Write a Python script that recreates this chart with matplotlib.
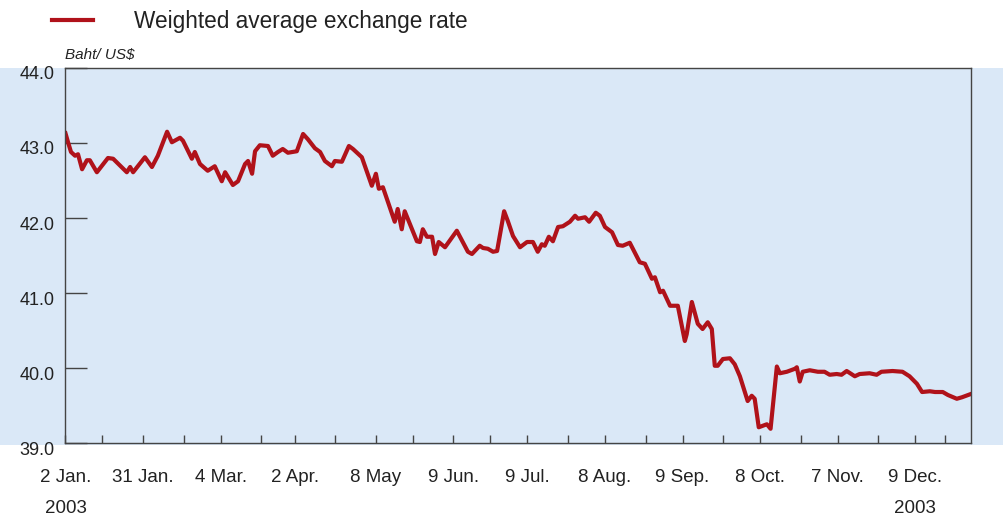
import matplotlib
matplotlib.use("Agg")
import matplotlib.pyplot as plt
import matplotlib.transforms as mtransforms
from matplotlib.patches import Rectangle

# Datos (eje x = dia habil desde el 2 Ene. 2003)
dias = [0, 0.7, 1.5, 2.6, 3.4, 4.5, 5.8, 6.6, 8.5, 11.5,
        12.9, 16.6, 17.5, 18.3, 21.5, 23.4, 25.0, 27.5, 28.8, 31.0,
        31.8, 34.2, 35.0, 36.4, 38.5, 40.4, 42.3, 43.2, 45.3, 46.7,
        48.6, 49.4, 50.5, 51.3, 52.6, 54.8, 56.1, 57.5, 58.8, 60.2,
        62.6, 64.3, 65.6, 67.5, 68.9, 70.2, 72.1, 72.9, 74.8, 76.7,
        77.8, 80.2, 82.9, 84.0, 84.8, 85.9, 89.1, 89.9, 91.0, 91.8,
        95.1, 95.9, 96.7, 97.8, 99.2, 100.0, 101.0, 102.7, 105.9, 108.9,
        110.0, 112.1, 113.0, 114.3, 115.7, 116.8, 118.7, 119.7, 121.1, 123.0,
        124.9, 126.5, 127.8, 128.9, 129.7, 130.8, 131.9, 133.3, 134.6, 136.5,
        137.9, 138.7, 140.6, 141.7, 143.5, 144.6, 146.0, 147.9, 149.5, 150.8,
        152.7, 155.4, 156.8, 158.7, 159.5, 160.9, 161.7, 163.6, 165.7, 167.6,
        168.1, 169.5, 171.1, 172.4, 173.8, 174.9, 175.7, 176.5, 177.9, 179.8,
        181.1, 182.5, 184.6, 185.7, 186.5, 187.6, 189.8, 190.8, 192.5, 193.3,
        195.2, 197.4, 197.9, 198.7, 199.5, 201.4, 203.6, 205.4, 206.8, 208.7,
        210.0, 211.4, 213.6, 214.9, 217.6, 219.5, 220.8, 223.8, 226.5, 228.4,
        230.4, 231.8, 233.9, 235.3, 237.4, 238.8, 241.2, 242.6, 244.8]

tasa = [43.13, 43.01, 42.88, 42.83, 42.85, 42.65, 42.77, 42.77, 42.61, 42.80,
        42.79, 42.61, 42.68, 42.61, 42.81, 42.68, 42.83, 43.15, 43.01, 43.07,
        43.03, 42.79, 42.88, 42.72, 42.63, 42.69, 42.49, 42.61, 42.44, 42.49,
        42.72, 42.76, 42.59, 42.89, 42.97, 42.96, 42.83, 42.88, 42.92, 42.87,
        42.89, 43.12, 43.05, 42.93, 42.88, 42.76, 42.69, 42.76, 42.75, 42.96,
        42.92, 42.81, 42.43, 42.59, 42.39, 42.41, 41.95, 42.12, 41.85, 42.09,
        41.69, 41.68, 41.85, 41.75, 41.75, 41.52, 41.68, 41.61, 41.83, 41.55,
        41.52, 41.63, 41.60, 41.59, 41.55, 41.56, 42.09, 41.96, 41.76, 41.61,
        41.68, 41.68, 41.55, 41.65, 41.63, 41.75, 41.69, 41.88, 41.89, 41.95,
        42.03, 41.99, 42.01, 41.95, 42.07, 42.03, 41.88, 41.81, 41.64, 41.63,
        41.67, 41.41, 41.39, 41.19, 41.21, 41.01, 41.03, 40.83, 40.83, 40.36,
        40.45, 40.88, 40.59, 40.52, 40.61, 40.52, 40.03, 40.03, 40.12, 40.13,
        40.05, 39.89, 39.56, 39.63, 39.59, 39.21, 39.25, 39.19, 40.02, 39.93,
        39.95, 39.99, 40.01, 39.82, 39.95, 39.97, 39.95, 39.95, 39.91, 39.92,
        39.91, 39.96, 39.89, 39.92, 39.93, 39.91, 39.95, 39.96, 39.95, 39.89,
        39.79, 39.68, 39.69, 39.68, 39.68, 39.64, 39.59, 39.61, 39.65]

# Etiquetas del eje x
pos_etiquetas = [0, 21, 42, 62, 84, 105, 125, 146, 167, 188, 209, 230]
etiquetas = ["2 Jan.", "31 Jan.", "4 Mar.", "2 Apr.", "8 May", "9 Jun.",
             "9 Jul.", "8 Aug.", "9 Sep.", "8 Oct.", "7 Nov.", "9 Dec."]
pos_menores = [10, 32, 53, 73, 94, 115, 136, 157, 178, 199, 220, 238]
anios = [(0, "2003"), (230, "2003")]
yticks = [39.0, 40.0, 41.0, 42.0, 43.0, 44.0]

plt.rcParams['font.family'] = ['Liberation Sans', 'DejaVu Sans']

azul = '#dae8f7'
rojo = '#b0121a'
gris = '#222222'

fig = plt.figure(figsize=(10.04, 5.19), dpi=100)
fig.patch.set_facecolor('white')

# Fondo celeste detras del grafico (todo el ancho)
fondo = Rectangle((0, 0.1426), 1, 0.7264, transform=fig.transFigure,
                  facecolor=azul, edgecolor='none', zorder=-10)
fig.add_artist(fondo)

ax = fig.add_axes([0.0652, 0.1464, 0.9018, 0.7226])
ax.set_facecolor(azul)

linea, = ax.plot(dias, tasa, color=rojo, linewidth=3.0, solid_joinstyle='round',
                 label='Weighted average exchange rate')

ax.set_xlim(0, 245)
ax.set_ylim(39, 44)

for s in ax.spines.values():
    s.set_color('#444444')
    s.set_linewidth(1.0)

ax.set_xticks(pos_etiquetas)
ax.set_xticklabels(etiquetas)
ax.set_xticks(pos_menores, minor=True)
ax.tick_params(axis='x', which='both', direction='in', length=6, width=1.0,
               color='#444444', labelsize=13.5, labelcolor=gris, pad=19)

ax.set_yticks(yticks)
ax.set_yticklabels([f"{v:.1f}" for v in yticks])
ax.tick_params(axis='y', direction='in', length=16, width=1.0, color='#444444',
               labelsize=13, labelcolor=gris, pad=8)

# las etiquetas del eje y van un poco mas abajo que la marca
desplaz = mtransforms.ScaledTranslation(0, -0.05, fig.dpi_scale_trans)
for lbl in ax.get_yticklabels():
    lbl.set_transform(lbl.get_transform() + desplaz)

# Anio debajo de la primera y la ultima etiqueta
for x, txt in anios:
    ax.annotate(txt, xy=(x, 0), xycoords=('data', 'axes fraction'),
                xytext=(0, -47), textcoords='offset points',
                ha='center', va='center', fontsize=13.5, color=gris)

# Unidad
ax.text(0, 1.035, "Baht/ US$", transform=ax.transAxes, fontsize=11,
        style='italic', color=gris, ha='left', va='center')

# Leyenda
fig.legend(handles=[linea], loc='center left', bbox_to_anchor=(0.052, 0.959),
           frameon=False, fontsize=16.3, handlelength=1.8, handletextpad=1.8,
           borderpad=0, borderaxespad=0, labelcolor=gris)

fig.savefig('out.png', dpi=100)
